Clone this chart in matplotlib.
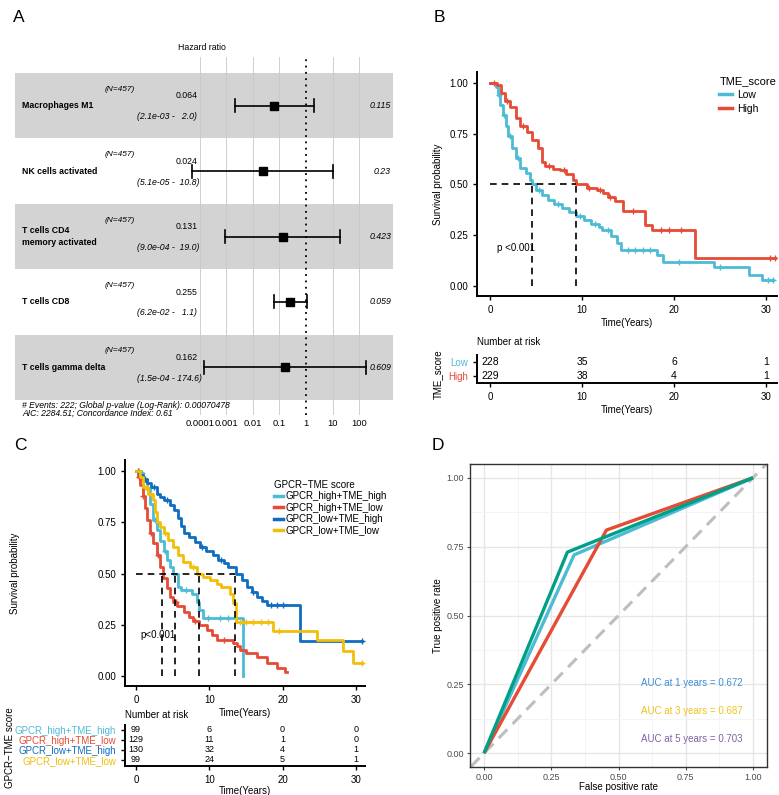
import numpy as np
import matplotlib
matplotlib.use("Agg")
import matplotlib.pyplot as plt
from matplotlib.lines import Line2D
from matplotlib.transforms import blended_transform_factory

plt.rcParams['font.family'] = ['Liberation Sans', 'DejaVu Sans']

W, H = 779, 795

# ---------------- data ----------------
# A: forest plot
cells = ["Macrophages M1", "NK cells activated", "T cells CD4\nmemory activated",
         "T cells CD8", "T cells gamma delta"]
n_pat = [457, 457, 457, 457, 457]
hr = [0.064, 0.024, 0.131, 0.255, 0.162]
hr_lo = [2.1e-03, 5.1e-05, 9.0e-04, 6.2e-02, 1.5e-04]
hr_hi = [2.0, 10.8, 19.0, 1.1, 174.6]
hr_p = ["0.115", "0.23", "0.423", "0.059", "0.609"]
forest_ticks = [0.0001, 0.001, 0.01, 0.1, 1, 10, 100]
forest_ticklabels = ["0.0001", "0.001", "0.01", "0.1", "1", "10", "100"]

# B: KM by TME score
b_groups = ["Low", "High"]
b_low_t = [0, 0.6, 0.9, 1.1, 1.4, 1.7, 2.0, 2.4, 2.8, 3.3, 3.9, 4.3, 4.6, 5.0, 5.6, 6.3, 7.0,
           7.8, 8.6, 9.4, 10.2, 11.0, 11.8, 12.2, 13.2, 13.8, 14.2, 18.2, 18.8, 24.3, 28.1, 29.6, 30.8]
b_low_s = [1.0, 0.98, 0.94, 0.89, 0.84, 0.79, 0.74, 0.68, 0.63, 0.58, 0.555, 0.52, 0.50, 0.475,
           0.45, 0.425, 0.405, 0.385, 0.365, 0.345, 0.325, 0.305, 0.29, 0.275, 0.245, 0.21, 0.175,
           0.155, 0.12, 0.095, 0.055, 0.03, 0.03]
b_high_t = [0, 0.8, 1.2, 1.6, 2.2, 2.8, 3.3, 4.0, 4.6, 5.2, 5.6, 6.0, 6.8, 7.6, 8.3, 9.0, 9.4,
            10.5, 11.6, 12.3, 12.8, 13.6, 14.5, 16.8, 17.6, 22.3, 31.0]
b_high_s = [1.0, 0.99, 0.95, 0.91, 0.88, 0.83, 0.79, 0.76, 0.72, 0.68, 0.61, 0.59, 0.575, 0.57,
            0.55, 0.52, 0.50, 0.485, 0.475, 0.46, 0.44, 0.42, 0.37, 0.30, 0.275, 0.137, 0.137]
b_low_cens = [1.0, 1.5, 2.2, 3.0, 5.3, 7.4, 9.8, 11.4, 12.8, 15.0, 15.8, 16.6, 17.4, 20.5, 25.0, 30.2, 30.8]
b_high_cens = [0.4, 1.8, 3.6, 6.4, 8.0, 10.8, 12.0, 13.0, 15.5, 18.6, 19.5, 20.8, 30.4, 31.0]
b_medians = [4.6, 9.4]
b_risk_times = [0, 10, 20, 30]
b_risk = [[228, 35, 6, 1], [229, 38, 4, 1]]

# C: KM by GPCR-TME score
c_groups = ["GPCR_high+TME_high", "GPCR_high+TME_low", "GPCR_low+TME_high", "GPCR_low+TME_low"]
c_hh_t = [0, 0.5, 1.0, 1.5, 1.9, 2.3, 2.8, 3.3, 3.8, 4.2, 4.7, 5.1, 5.7, 6.2, 7.6, 8.3, 8.6, 9.1, 14.6, 14.6]
c_hh_s = [1.0, 0.99, 0.95, 0.91, 0.84, 0.76, 0.71, 0.66, 0.61, 0.565, 0.53, 0.50, 0.435, 0.42,
          0.40, 0.36, 0.32, 0.285, 0.0, 0.0]
c_hl_t = [0, 0.3, 0.6, 0.9, 1.2, 1.5, 1.9, 2.3, 2.8, 3.3, 3.7, 4.2, 4.6, 5.1, 5.6, 6.5, 7.2, 7.8,
          8.6, 9.7, 10.4, 11.0, 13.3, 13.8, 14.2, 15.0, 16.5, 17.9, 19.2, 20.3, 20.6]
c_hl_s = [1.0, 0.97, 0.93, 0.88, 0.82, 0.76, 0.70, 0.65, 0.59, 0.53, 0.48, 0.43, 0.385, 0.36, 0.34,
          0.31, 0.29, 0.27, 0.25, 0.225, 0.20, 0.175, 0.16, 0.145, 0.127, 0.11, 0.095, 0.063, 0.04,
          0.02, 0.02]
c_lh_t = [0, 0.6, 1.0, 1.5, 2.0, 2.8, 3.3, 3.8, 4.6, 5.2, 5.7, 6.1, 6.6, 7.2, 8.0, 8.7, 9.6, 10.5,
          11.2, 12.0, 12.6, 13.6, 14.4, 15.1, 15.8, 16.5, 17.2, 17.9, 22.4, 30.8]
c_lh_s = [1.0, 0.98, 0.96, 0.94, 0.92, 0.89, 0.875, 0.86, 0.835, 0.81, 0.77, 0.73, 0.70, 0.68,
          0.655, 0.63, 0.61, 0.59, 0.565, 0.55, 0.53, 0.50, 0.47, 0.435, 0.41, 0.385, 0.365, 0.345,
          0.17, 0.17]
c_ll_t = [0, 0.5, 1.0, 1.6, 2.3, 2.6, 2.9, 3.3, 3.8, 4.4, 5.1, 5.7, 6.4, 7.3, 8.3, 9.2, 10.1, 11.0,
          11.6, 12.8, 13.3, 13.6, 18.7, 24.7, 28.2, 29.6, 30.8]
c_ll_s = [1.0, 0.97, 0.92, 0.89, 0.86, 0.80, 0.75, 0.725, 0.70, 0.665, 0.63, 0.59, 0.555, 0.53,
          0.50, 0.485, 0.47, 0.45, 0.435, 0.40, 0.355, 0.265, 0.22, 0.175, 0.12, 0.065, 0.065]
c_cens = [[0.8, 1.7, 2.6, 4.0, 6.8, 9.8, 11.5, 12.6],
          [0.4, 1.0, 2.0, 3.0, 5.4, 8.0, 12.0],
          [0.3, 1.2, 2.4, 4.2, 9.0, 11.6, 16.0, 18.4, 19.3, 20.0, 30.8],
          [0.4, 1.3, 2.0, 4.0, 7.8, 14.2, 15.0, 16.0, 17.0, 18.0, 19.5, 30.8]]
c_medians = [3.5, 5.3, 8.6, 13.5]
c_risk_times = [0, 10, 20, 30]
c_risk = [[99, 6, 0, 0], [129, 11, 1, 0], [130, 32, 4, 1], [99, 24, 5, 1]]

# D: time-dependent ROC
roc_fpr = [[0, 0.335, 1], [0, 0.455, 1], [0, 0.31, 1]]
roc_tpr = [[0, 0.72, 1], [0, 0.81, 1], [0, 0.73, 1]]
auc_labels = ["AUC at 1 years = 0.672", "AUC at 3 years = 0.687", "AUC at 5 years = 0.703"]

# colours
c_low, c_high = "#4DBBD5", "#E64B35"
c_cols = ["#4DBBD5", "#E64B35", "#0F6CC0", "#F2BE0A"]
roc_cols = ["#4DBBD5", "#E64B35", "#00A087"]
auc_cols = ["#3F8FD8", "#F0C21E", "#7E62A6"]


def rect(l, t, r, b):
    return [l / W, 1 - b / H, (r - l) / W, (b - t) / H]


def ftext(x, y, s, **kw):
    fig.text(x / W, 1 - y / H, s, **kw)


def classic(ax):
    for sp in ["top", "right"]:
        ax.spines[sp].set_visible(False)
    for sp in ["left", "bottom"]:
        ax.spines[sp].set_linewidth(1.4)
    ax.tick_params(labelsize=7, length=3, width=1, colors="black")


def km(ax, t, s, col, cens):
    ax.step(t, s, where="post", color=col, lw=2)
    cy = [s[np.searchsorted(t, c, side="right") - 1] for c in cens]
    ax.plot(cens, cy, "+", color=col, ms=4, mew=1)


fig = plt.figure(figsize=(W / 100, H / 100), dpi=100)

# panel letters
ftext(13, 18, "A", fontsize=12.5, va="center")
ftext(434, 18, "B", fontsize=12.5, va="center")
ftext(14, 446, "C", fontsize=12.5, va="center")
ftext(432, 446, "D", fontsize=12.5, va="center")

# ---------------- A ----------------
# 26.6 px per decade, 1 at x=306px
axA = fig.add_axes(rect(15, 57, 393, 415))
lo_log = 0 - (306 - 15) / 26.6
hi_log = 0 + (393 - 306) / 26.6
axA.set_xscale("log")
axA.set_xlim(10 ** lo_log, 10 ** hi_log)
axA.set_ylim(4.5 + 15 / 65, -0.5 - 16 / 65)
for i in range(len(cells)):
    if i % 2 == 0:
        axA.axhspan(i - 0.5, i + 0.5, color="#D3D3D3", zorder=0, lw=0)
for tk in forest_ticks:
    if tk == 1:
        axA.axvline(tk, color="black", ls=(0, (1, 2.5)), lw=1.3, zorder=1)
    else:
        axA.axvline(tk, color="#C8C8C8", lw=0.6, zorder=1)
for i in range(len(cells)):
    axA.plot([hr_lo[i], hr_hi[i]], [i, i], color="black", lw=1.2, zorder=3)
    axA.plot([hr_lo[i], hr_lo[i]], [i - 0.1, i + 0.1], color="black", lw=1.2, zorder=3)
    axA.plot([hr_hi[i], hr_hi[i]], [i - 0.1, i + 0.1], color="black", lw=1.2, zorder=3)
    axA.plot(hr[i], i, "s", color="black", ms=5.5, zorder=4)
tr = blended_transform_factory(axA.transAxes, axA.transData)
for i in range(len(cells)):
    axA.text(0.019, i, cells[i], transform=tr, fontsize=6.3, fontweight="bold", va="center",
             linespacing=1.3)
    axA.text(0.317, i - 0.25, "(N=%d)" % n_pat[i], transform=tr, fontsize=6, style="italic",
             ha="right", va="center")
    axA.text(0.455, i - 0.15, "%.3f" % hr[i], transform=tr, fontsize=6.3, ha="center", va="center")
    axA.text(0.323, i + 0.17, "(%.1e - %5.1f)" % (hr_lo[i], hr_hi[i]), transform=tr, fontsize=6.3,
             style="italic", ha="left", va="center")
    axA.text(0.995, i, hr_p[i], transform=tr, fontsize=6.3, style="italic", ha="right", va="center")
axA.set_xticks(forest_ticks)
axA.set_xticklabels(forest_ticklabels)
axA.minorticks_off()
axA.tick_params(axis="x", length=0, labelsize=6.8, pad=3)
axA.set_yticks([])
for sp in axA.spines.values():
    sp.set_visible(False)
ftext(202, 47, "Hazard ratio", fontsize=6.3, ha="center", va="center")
ftext(22, 405, "# Events: 222; Global p-value (Log-Rank): 0.00070478", fontsize=6.2,
      style="italic", va="center")
ftext(22, 413, "AIC: 2284.51; Concordance Index: 0.61", fontsize=6.2, style="italic", va="center")

# ---------------- B ----------------
axB = fig.add_axes(rect(477, 72, 777, 296))
axB.set_xlim((477 - 490) / 9.2, (777 - 490) / 9.2)
axB.set_ylim((286 - 296) / 203, (286 - 72) / 203)
km(axB, b_low_t, b_low_s, c_low, b_low_cens)
km(axB, b_high_t, b_high_s, c_high, b_high_cens)
axB.plot([0, b_medians[1]], [0.5, 0.5], color="black", ls=(0, (4, 3)), lw=1.2)
for m in b_medians:
    axB.plot([m, m], [0, 0.5], color="black", ls=(0, (4, 3)), lw=1.2)
axB.text(0.8, 0.187, "p <0.001", fontsize=7, va="center")
axB.set_xticks([0, 10, 20, 30])
axB.set_yticks([0, 0.25, 0.5, 0.75, 1.0])
axB.set_yticklabels(["0.00", "0.25", "0.50", "0.75", "1.00"])
classic(axB)
axB.set_xlabel("Time(Years)", fontsize=7, labelpad=2)
axB.set_ylabel("Survival probability", fontsize=7)
axB.yaxis.set_label_coords((443 - 477) / 300, 0.5)
handles = [Line2D([], [], color=c, lw=2.5) for c in (c_low, c_high)]
leg = fig.legend(handles, b_groups, title="TME_score", loc="upper left",
                 bbox_to_anchor=(710 / W, 1 - 67 / H), frameon=False, fontsize=7.5,
                 title_fontsize=8, handlelength=1.2, handletextpad=0.5, labelspacing=0.35)
leg._legend_box.align = "left"

axBr = fig.add_axes(rect(477, 355, 777, 383))
axBr.set_xlim((477 - 490) / 9.2, (777 - 490) / 9.2)
axBr.set_ylim(-0.5, 1.5)
for gi, row in enumerate(b_risk):
    yy = 1 - gi
    for tt, v in zip(b_risk_times, row):
        axBr.text(tt, yy, str(v), fontsize=7.5, ha="center", va="center")
axBr.set_xticks(b_risk_times)
axBr.set_yticks([1, 0])
axBr.set_yticklabels(b_groups)
classic(axBr)
for lab, c in zip(axBr.get_yticklabels(), (c_low, c_high)):
    lab.set_color(c)
axBr.set_xlabel("Time(Years)", fontsize=7, labelpad=2)
axBr.set_ylabel("TME_score", fontsize=7)
axBr.yaxis.set_label_coords((443 - 477) / 300, 0.3)
ftext(477, 342, "Number at risk", fontsize=7, va="center")

# ---------------- C ----------------
axC = fig.add_axes(rect(125, 460, 365, 686))
axC.set_xlim((125 - 136) / 7.33, (365 - 136) / 7.33)
axC.set_ylim((676 - 686) / 205, (676 - 460) / 205)
c_t = [c_hh_t, c_hl_t, c_lh_t, c_ll_t]
c_s = [c_hh_s, c_hl_s, c_lh_s, c_ll_s]
for t, s, col, cens in zip(c_t, c_s, c_cols, c_cens):
    km(axC, t, s, col, cens)
axC.plot([0, max(c_medians)], [0.5, 0.5], color="black", ls=(0, (4, 3)), lw=1.2)
for m in c_medians:
    axC.plot([m, m], [0, 0.5], color="black", ls=(0, (4, 3)), lw=1.2)
axC.text(0.6, 0.2, "p<0.001", fontsize=7, va="center")
axC.set_xticks([0, 10, 20, 30])
axC.set_yticks([0, 0.25, 0.5, 0.75, 1.0])
axC.set_yticklabels(["0.00", "0.25", "0.50", "0.75", "1.00"])
classic(axC)
axC.set_xlabel("Time(Years)", fontsize=7, labelpad=2)
axC.set_ylabel("Survival probability", fontsize=7)
axC.yaxis.set_label_coords((20 - 125) / 240, 0.5)
handles = [Line2D([], [], color=c, lw=2.5) for c in c_cols]
leg = fig.legend(handles, c_groups, title="GPCR\u2212TME score", loc="upper left",
                 bbox_to_anchor=(265 / W, 1 - 471 / H), frameon=False, fontsize=7,
                 title_fontsize=7, handlelength=1.0, handletextpad=0.2, labelspacing=0.15)
leg._legend_box.align = "left"

axCr = fig.add_axes(rect(125, 725, 365, 766))
axCr.set_xlim((125 - 136) / 7.33, (365 - 136) / 7.33)
axCr.set_ylim(-0.6, 3.5)
for gi, row in enumerate(c_risk):
    yy = 3 - gi
    for tt, v in zip(c_risk_times, row):
        axCr.text(tt, yy, str(v), fontsize=6.5, ha="center", va="center")
axCr.set_xticks(c_risk_times)
axCr.set_yticks([3, 2, 1, 0])
axCr.set_yticklabels(c_groups)
classic(axCr)
for lab, c in zip(axCr.get_yticklabels(), c_cols):
    lab.set_color(c)
axCr.tick_params(axis="y", labelsize=7)
axCr.set_xlabel("Time(Years)", fontsize=7, labelpad=1)
axCr.set_ylabel("GPCR\u2212TME score", fontsize=7)
axCr.yaxis.set_label_coords((15 - 125) / 240, 0.45)
ftext(125, 715, "Number at risk", fontsize=7, va="center")

# ---------------- D ----------------
axD = fig.add_axes(rect(470, 464, 767, 767))
axD.set_xlim(-0.052, 1.052)
axD.set_ylim(-0.05, 1.05)
axD.set_xticks([0, 0.25, 0.5, 0.75, 1.0])
axD.set_yticks([0, 0.25, 0.5, 0.75, 1.0])
axD.set_xticks([0.125, 0.375, 0.625, 0.875], minor=True)
axD.set_yticks([0.125, 0.375, 0.625, 0.875], minor=True)
axD.set_xticklabels(["0.00", "0.25", "0.50", "0.75", "1.00"])
axD.set_yticklabels(["0.00", "0.25", "0.50", "0.75", "1.00"])
axD.grid(which="major", color="#E6E6E6", lw=1.0)
axD.grid(which="minor", color="#F2F2F2", lw=0.6)
axD.set_axisbelow(True)
axD.tick_params(which="minor", length=0)
axD.tick_params(which="major", labelsize=6.5, colors="#4D4D4D", length=2.5, pad=2)
for sp in axD.spines.values():
    sp.set_color("#333333")
    sp.set_linewidth(1.0)
axD.plot([-0.1, 1.1], [-0.1, 1.1], color="#BEBEBE", ls=(0, (4, 2.5)), lw=2.2)
for fp, tp, col in zip(roc_fpr, roc_tpr, roc_cols):
    axD.plot(fp, tp, color=col, lw=2.4, solid_capstyle="butt")
for k, (lab, col) in enumerate(zip(auc_labels, auc_cols)):
    axD.text(0.585, 0.255 - 0.102 * k, lab, color=col, fontsize=7, va="center")
axD.set_xlabel("False positive rate", fontsize=7, labelpad=0)
axD.set_ylabel("True positive rate", fontsize=7, labelpad=2)

fig.savefig("out.png", dpi=100)
